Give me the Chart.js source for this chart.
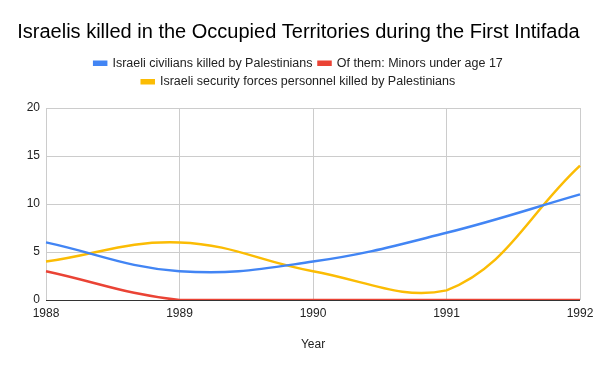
<!DOCTYPE html>
<html>
<head>
<meta charset="utf-8">
<script src="https://cdn.jsdelivr.net/npm/chart.js@4"></script>
<style>
  html, body { margin: 0; padding: 0; background: #fff; }
</style>
</head>
<body>
<canvas id="intifadaChart" width="600" height="371"></canvas>
<script>
// Years on the x axis
const years = ['1988', '1989', '1990', '1991', '1992'];

// Series
const civiliansKilled = [6, 3, 4, 7, 11];
const minorsKilled = [3, 0, 0, 0, 0];
const securityForcesKilled = [4, 6, 3, 1, 14];

// Y axis ticks
const yTicks = [0, 5, 10, 15, 20];

const seriesColors = {
    civilians: '#4285f4',   // Blue
    minors: '#ea4335',      // Red
    security: '#fbbc04'     // Yellow
};

// Leave a gap under the legend, like the original
const legendMargin = {
    id: 'legendMargin',
    beforeInit(chart) {
        const fit = chart.legend.fit;
        chart.legend.fit = function() {
            fit.bind(chart.legend)();
            this.height += 10;
        };
    }
};

// Dark baseline at zero, drawn over the lines
const zeroLine = {
    id: 'zeroLine',
    afterDatasetsDraw(chart) {
        const { ctx, chartArea, scales } = chart;
        const y = scales.y.getPixelForValue(0);
        ctx.save();
        ctx.strokeStyle = '#333333';
        ctx.lineWidth = 1;
        ctx.beginPath();
        ctx.moveTo(chartArea.left, Math.round(y) + 0.5);
        ctx.lineTo(chartArea.right, Math.round(y) + 0.5);
        ctx.stroke();
        ctx.restore();
    }
};

document.addEventListener('DOMContentLoaded', function() {

Chart.defaults.font.family = '"Liberation Sans", Arial, sans-serif';
Chart.defaults.color = '#444444';

new Chart(document.getElementById('intifadaChart'), {
    type: 'line',
    data: {
        labels: years,
        datasets: [
            {
                label: 'Israeli civilians killed by Palestinians',
                data: civiliansKilled,
                borderColor: seriesColors.civilians,
                backgroundColor: seriesColors.civilians,
                borderWidth: 2.5,
                tension: 0.4,
                pointRadius: 0
            },
            {
                label: 'Of them: Minors under age 17',
                data: minorsKilled,
                borderColor: seriesColors.minors,
                backgroundColor: seriesColors.minors,
                borderWidth: 2.5,
                tension: 0.4,
                pointRadius: 0
            },
            {
                label: 'Israeli security forces personnel killed by Palestinians',
                data: securityForcesKilled,
                borderColor: seriesColors.security,
                backgroundColor: seriesColors.security,
                borderWidth: 2.5,
                tension: 0.4,
                pointRadius: 0
            }
        ]
    },
    options: {
        responsive: false,
        animation: false,
        layout: {
            padding: { top: 10, right: 20, bottom: 11, left: 17 }
        },
        scales: {
            x: {
                offset: false,
                grid: { color: '#cccccc', drawTicks: false },
                border: { display: false },
                ticks: { padding: 6, font: { size: 12 }, color: '#222222', maxRotation: 0 },
                title: {
                    display: true,
                    text: 'Year',
                    color: '#222222',
                    font: { size: 12 },
                    padding: { top: 0, bottom: 8 }
                },
                afterFit(scale) { scale.height = 60; }
            },
            y: {
                min: 0,
                max: 20,
                afterBuildTicks(scale) { scale.ticks = yTicks.map(v => ({ value: v })); },
                grid: { color: '#cccccc', drawTicks: false },
                border: { display: false },
                ticks: { padding: 6, font: { size: 12 }, color: '#222222' },
                afterFit(scale) { scale.width = 29; }
            }
        },
        plugins: {
            title: {
                display: true,
                text: 'Israelis killed in the Occupied Territories during the First Intifada',
                color: '#000000',
                font: { size: 20, weight: 'normal' },
                padding: { top: 10, bottom: 7 }
            },
            legend: {
                position: 'top',
                labels: {
                    boxWidth: 12,
                    boxHeight: 3,
                    padding: 6,
                    color: '#222222',
                    font: { size: 12.5 }
                }
            },
            tooltip: { enabled: false }
        }
    },
    plugins: [legendMargin, zeroLine]
});
});
</script>
</body>
</html>
